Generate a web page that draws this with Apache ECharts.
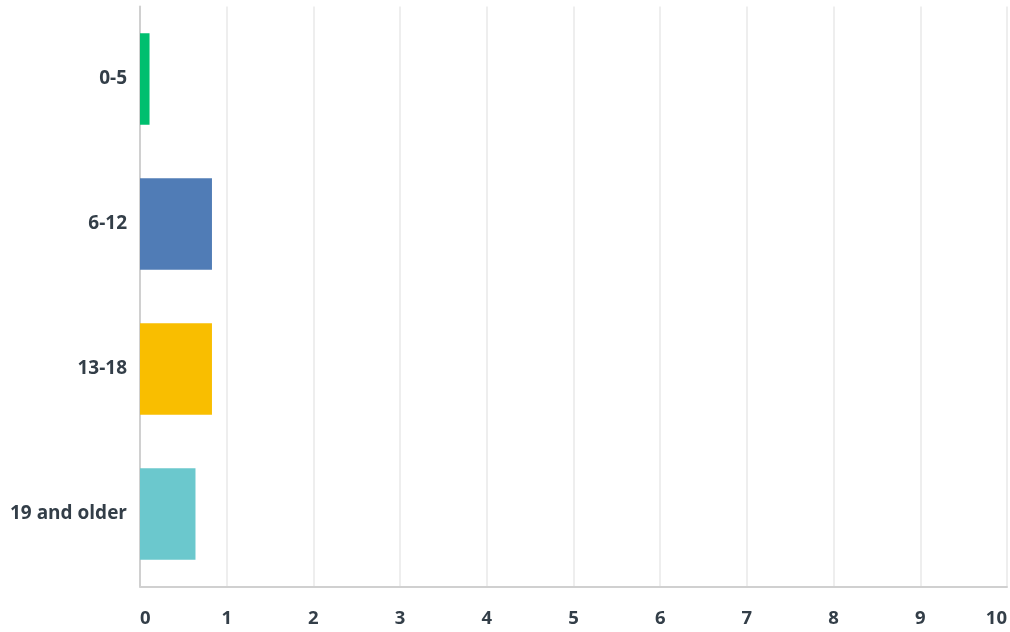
<!DOCTYPE html>
<html>
<head>
<meta charset="utf-8">
<script src="https://cdn.jsdelivr.net/npm/echarts@6/dist/echarts.min.js"></script>
<style>
html,body{margin:0;padding:0;background:#fff;}
#chart{width:1010px;height:632px;}
</style>
</head>
<body>
<div id="chart"></div>
<script>
// Age groups, top to bottom
const categories = ['0-5', '6-12', '13-18', '19 and older'];
const values = [0.11, 0.83, 0.83, 0.64];
const barColors = ['#00bf6f', '#507cb6', '#f9be00', '#6bc8cd'];
const xTicks = [0, 1, 2, 3, 4, 5, 6, 7, 8, 9, 10];

const labelFont = 'Open Sans';

const chart = echarts.init(document.getElementById('chart'));
chart.setOption({
  animation: false,
  grid: { left: 140, right: 2, top: 6.5, bottom: 45.5, containLabel: false },
  xAxis: {
    type: 'value',
    min: xTicks[0],
    max: xTicks[xTicks.length - 1],
    interval: 1,
    axisLine: { show: true, lineStyle: { color: '#d0d0d0', width: 2 } },
    axisTick: { show: false },
    splitLine: { show: true, lineStyle: { color: '#e9e9e9', width: 1.5 } },
    axisLabel: {
      color: '#333e48',
      fontFamily: labelFont,
      fontWeight: 'bold',
      fontSize: 18.5,
      margin: 23,
      alignMinLabel: 'left',
      alignMaxLabel: 'right'
    }
  },
  yAxis: {
    type: 'category',
    data: categories,
    inverse: true,
    axisLine: { show: true, lineStyle: { color: '#d0d0d0', width: 2 } },
    axisTick: { show: false },
    axisLabel: {
      color: '#333e48',
      fontFamily: labelFont,
      fontWeight: 'bold',
      fontSize: 19,
      margin: 13
    }
  },
  series: [{
    type: 'bar',
    data: values.map((v, i) => ({ value: v, itemStyle: { color: barColors[i] } })),
    barCategoryGap: '37%'
  }]
});
</script>
</body>
</html>
